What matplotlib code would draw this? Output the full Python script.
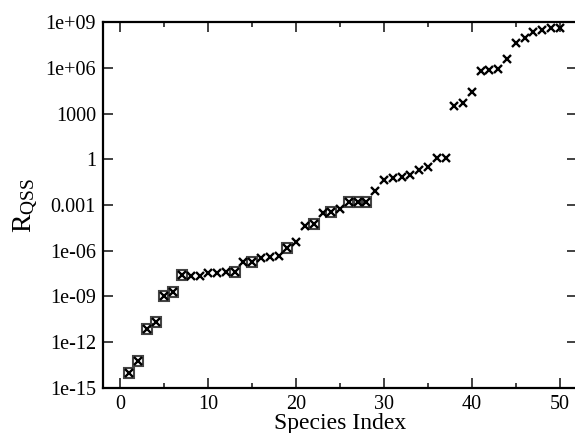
import numpy as np
import matplotlib
matplotlib.use("Agg")
import matplotlib.pyplot as plt
from matplotlib.ticker import FixedLocator, FixedFormatter, MultipleLocator

plt.rcParams['font.family'] = ['Liberation Serif', 'DejaVu Serif']
plt.rcParams['mathtext.fontset'] = 'custom'
plt.rcParams['mathtext.rm'] = 'Liberation Serif'
plt.rcParams['mathtext.it'] = 'Liberation Serif'

# species index and log10 of R_QSS
species = np.arange(1, 51)
log_rqss = [-14.0, -13.22, -11.15, -10.67, -8.97, -8.73, -7.59, -7.63, -7.63, -7.44,
            -7.44, -7.4, -7.4, -6.76, -6.74, -6.5, -6.41, -6.32, -5.84, -5.41,
            -4.38, -4.27, -3.51, -3.48, -3.27, -2.83, -2.83, -2.83, -2.11, -1.35,
            -1.22, -1.17, -1.03, -0.7, -0.5, 0.07, 0.07, 3.5, 3.72, 4.44,
            5.79, 5.84, 5.9, 6.58, 7.65, 7.97, 8.32, 8.48, 8.58, 8.58]
boxed = [1, 2, 3, 4, 5, 6, 7, 13, 15, 19, 22, 24, 26, 27, 28]

ytick_vals = [1e-15, 1e-12, 1e-9, 1e-6, 1e-3, 1, 1e3, 1e6, 1e9]
ytick_labels = ["1e-15", "1e-12", "1e-09", "1e-06", "0.001", "1", "1000", "1e+06", "1e+09"]

rqss = 10.0 ** np.array(log_rqss)
box_idx = np.array(boxed)
box_vals = rqss[box_idx - 1]

fig = plt.figure(figsize=(5.75, 4.33), dpi=100)
ax = fig.add_axes([0.179, 0.104, 0.825, 0.845])

ax.plot(species, rqss, linestyle='none', marker='x', color='black',
        markersize=5.2, markeredgewidth=1.7, zorder=3)
ax.plot(box_idx, box_vals, linestyle='none', marker='s', markerfacecolor='none',
        markeredgecolor='#444444', markersize=7.2, markeredgewidth=1.5, zorder=2)

ax.set_yscale('log')
ax.set_xlim(-2, 52)
ax.set_ylim(1e-15, 1e9)

ax.yaxis.set_major_locator(FixedLocator(ytick_vals))
ax.yaxis.set_major_formatter(FixedFormatter(ytick_labels))
ax.yaxis.set_minor_locator(FixedLocator([]))
ax.xaxis.set_major_locator(MultipleLocator(10))
ax.xaxis.set_minor_locator(MultipleLocator(5))

ax.tick_params(which='both', direction='in', top=True, right=True, labelsize=14.5,
               color='#333333', width=1.3, pad=5)
ax.tick_params(which='major', length=7)
ax.tick_params(which='minor', length=3.5)
for sp in ax.spines.values():
    sp.set_linewidth(1.6)

ax.set_xlabel('Species Index', fontsize=17, labelpad=-1)
ax.set_ylabel(r'R$_{\mathrm{QSS}}$', fontsize=20, labelpad=3)

fig.savefig('out.png', dpi=100)
